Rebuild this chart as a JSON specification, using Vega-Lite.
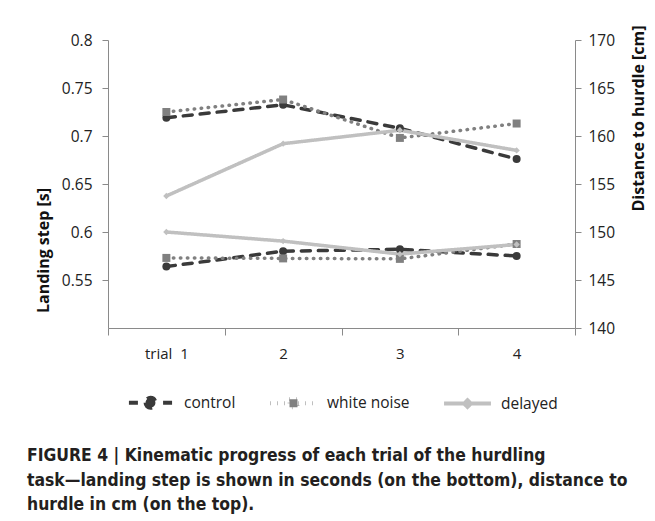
{
  "$schema": "https://vega.github.io/schema/vega-lite/v6.json",
  "width": 467,
  "height": 288,
  "autosize": {"type": "none"},
  "padding": {"left": 108, "top": 40, "right": 80, "bottom": 193},
  "background": "white",
  "title": {
    "text": [
      "FIGURE 4 | Kinematic progress of each trial of the hurdling",
      "task—landing step is shown in seconds (on the bottom), distance to",
      "hurdle in cm (on the top)."
    ],
    "orient": "bottom",
    "anchor": "start",
    "frame": "group",
    "dx": -81,
    "offset": 31,
    "font": "Liberation Sans Narrow, DejaVu Sans Condensed, sans-serif",
    "fontSize": 17.4,
    "fontWeight": "bold",
    "color": "#231f20",
    "lineHeight": 24.5
  },
  "data": {
    "values": [
      {"trial": "1", "condition": "control", "landing": 0.564, "distance": 161.9},
      {"trial": "2", "condition": "control", "landing": 0.580, "distance": 163.25},
      {"trial": "3", "condition": "control", "landing": 0.582, "distance": 160.8},
      {"trial": "4", "condition": "control", "landing": 0.575, "distance": 157.6},
      {"trial": "1", "condition": "white noise", "landing": 0.573, "distance": 162.5},
      {"trial": "2", "condition": "white noise", "landing": 0.5725, "distance": 163.8},
      {"trial": "3", "condition": "white noise", "landing": 0.572, "distance": 159.8},
      {"trial": "4", "condition": "white noise", "landing": 0.5875, "distance": 161.3},
      {"trial": "1", "condition": "delayed", "landing": 0.600, "distance": 153.75},
      {"trial": "2", "condition": "delayed", "landing": 0.5905, "distance": 159.2},
      {"trial": "3", "condition": "delayed", "landing": 0.577, "distance": 160.6},
      {"trial": "4", "condition": "delayed", "landing": 0.587, "distance": 158.5}
    ]
  },
  "encoding": {
    "x": {
      "field": "trial",
      "type": "ordinal",
      "scale": {"paddingInner": 0, "paddingOuter": 0},
      "axis": {
        "title": null,
        "labelAngle": 0,
        "labelExpr": "datum.value == '1' ? 'trial\u00a0 1' : datum.value",
        "tickBand": "extent",
        "tickSize": 7,
        "labelPadding": 11,
        "labelFontSize": 15,
        "labelFont": "Open Sans",
        "labelColor": "#222222",
        "domainColor": "#8a8a8a",
        "tickColor": "#8a8a8a",
        "grid": false
      }
    },
    "color": {"field": "condition", "type": "nominal",
      "scale": {"domain": ["control", "white noise", "delayed"], "range": ["#3a3a3a", "#808080", "#c0c0c0"]},
      "legend": null}
  },
  "layer": [
    {
      "encoding": {
        "y": {
          "field": "landing",
          "type": "quantitative",
          "scale": {"domain": [0.5, 0.8], "nice": false, "zero": false},
          "axis": {
            "orient": "left",
            "values": [0.55, 0.6, 0.65, 0.7, 0.75, 0.8],
            "format": ".2~f",
            "title": "Landing step [s]",
            "titleX": -65,
            "titleY": 210,
            "titleAngle": 270,
            "titleAlign": "center",
            "titleBaseline": "middle",
            "titleFont": "Open Sans",
            "titleFontSize": 16,
            "titleFontWeight": "bold",
            "titleColor": "#111111",
            "tickSize": 6,
            "labelPadding": 10,
            "labelFontSize": 15.5,
            "labelFont": "Open Sans",
            "labelColor": "#222222",
            "domainColor": "#8a8a8a",
            "tickColor": "#8a8a8a",
            "grid": false
          }
        }
      },
      "layer": [
        {
          "mark": {"type": "line", "strokeWidth": 3.5, "strokeCap": "round"},
          "encoding": {
            "color": {"field": "condition", "type": "nominal",
              "legend": {
                "encode": {
                  "symbols": {
                    "update": {
                      "shape": {"signal": "datum.value === 'control' ? 'M-0.92,0H-0.52M0.92,0H0.52M-0.21,0A0.21,0.21 0 1,0 0.21,0A0.21,0.21 0 1,0 -0.21,0Z' : datum.value === 'white noise' ? 'M-1,0H1M-0.17,-0.17H0.17V0.17H-0.17Z' : 'M-1,0H1M0,-0.14L0.14,0L0,0.14L-0.14,0Z'"},
                      "size": {"value": 2200},
                      "strokeWidth": {"value": 4},
                      "stroke": {"signal": "scale('color', datum.value)"},
                      "fill": {"signal": "scale('color', datum.value)"},
                      "strokeDash": {"signal": "datum.value === 'white noise' ? [0.5, 6.5] : [1, 0]"},
                      "opacity": {"value": 1}
                    }
                  }
                }
              }
            },
            "strokeDash": {"field": "condition", "type": "nominal",
              "scale": {"domain": ["control", "white noise", "delayed"], "range": [[9, 8], [0.5, 6.5], [1, 0]]},
              "legend": null}
          }
        },
        {
          "transform": [{"filter": "datum.condition === 'control'"}],
          "mark": {"type": "point", "filled": true, "opacity": 1, "size": 64, "shape": "circle"}
        },
        {
          "transform": [{"filter": "datum.condition === 'white noise'"}],
          "mark": {"type": "point", "filled": true, "opacity": 1, "size": 64, "shape": "square"}
        },
        {
          "transform": [{"filter": "datum.condition === 'delayed'"}],
          "mark": {"type": "point", "filled": true, "opacity": 1, "size": 40, "shape": "diamond"}
        }
      ]
    },
    {
      "encoding": {
        "y": {
          "field": "distance",
          "type": "quantitative",
          "scale": {"domain": [140, 170], "nice": false, "zero": false},
          "axis": {
            "orient": "right",
            "values": [140, 145, 150, 155, 160, 165, 170],
            "title": "Distance to hurdle [cm]",
            "titleX": 63,
            "titleY": 78,
            "titleAngle": 270,
            "titleAlign": "center",
            "titleBaseline": "middle",
            "titleFont": "Open Sans",
            "titleFontSize": 16,
            "titleFontWeight": "bold",
            "titleColor": "#111111",
            "tickSize": 6,
            "labelPadding": 7,
            "labelFontSize": 15.5,
            "labelFont": "Open Sans",
            "labelColor": "#222222",
            "domainColor": "#8a8a8a",
            "tickColor": "#8a8a8a",
            "grid": false
          }
        }
      },
      "layer": [
        {
          "mark": {"type": "line", "strokeWidth": 3.5, "strokeCap": "round"},
          "encoding": {
            "strokeDash": {"field": "condition", "type": "nominal", "legend": null}
          }
        },
        {
          "transform": [{"filter": "datum.condition === 'control'"}],
          "mark": {"type": "point", "filled": true, "opacity": 1, "size": 64, "shape": "circle"}
        },
        {
          "transform": [{"filter": "datum.condition === 'white noise'"}],
          "mark": {"type": "point", "filled": true, "opacity": 1, "size": 64, "shape": "square"}
        },
        {
          "transform": [{"filter": "datum.condition === 'delayed'"}],
          "mark": {"type": "point", "filled": true, "opacity": 1, "size": 40, "shape": "diamond"}
        }
      ]
    }
  ],
  "resolve": {"scale": {"y": "independent"}},
  "config": {
    "view": {"stroke": null},
    "legend": {
      "orient": "bottom",
      "direction": "horizontal",
      "title": null,
      "offset": 16,
      "symbolSize": 2200,
      "symbolStrokeWidth": 4,
      "symbolType": "stroke",
      "labelFontSize": 15.5,
      "labelFont": "Open Sans",
      "labelColor": "#222222",
      "labelOffset": 8,
      "columnPadding": 26,
      "layout": {"bottom": {"anchor": "middle"}}
    }
  }
}
